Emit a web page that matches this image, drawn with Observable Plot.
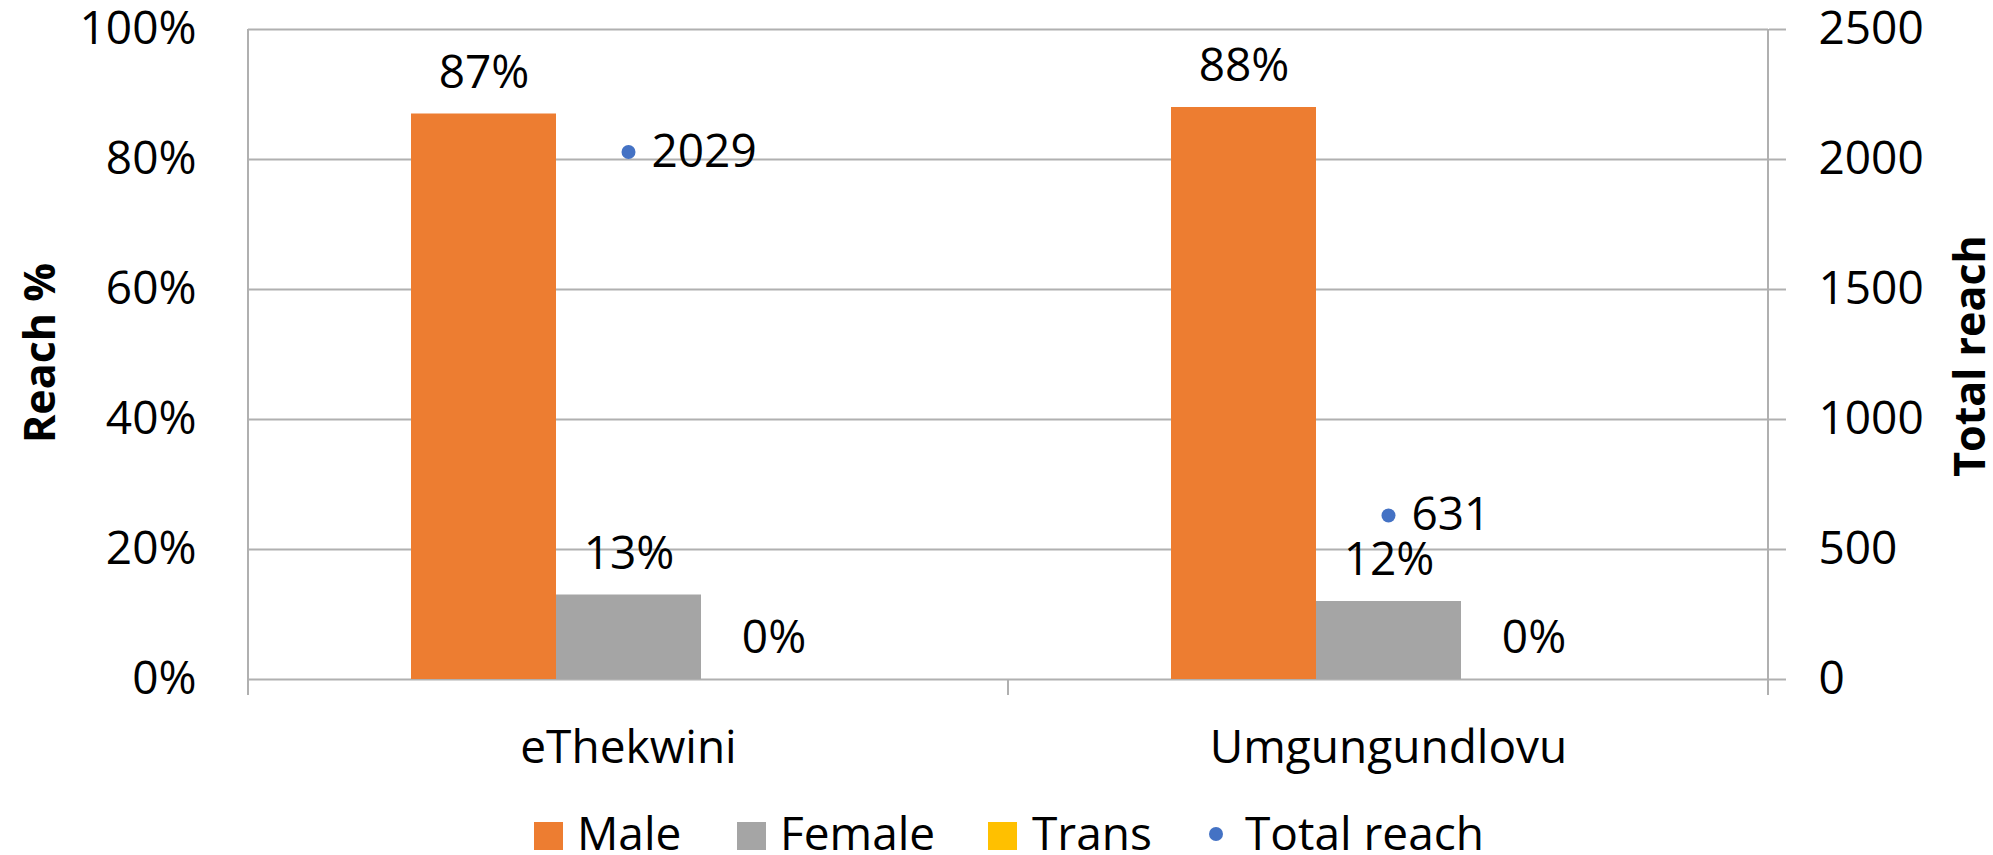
<!DOCTYPE html>
<html><head><meta charset="utf-8">
<script src="https://cdn.jsdelivr.net/npm/d3@7"></script>
<script src="https://cdn.jsdelivr.net/npm/@observablehq/plot@0.6"></script>
<style>
body{margin:0;background:#fff;font-family:"Open Sans",sans-serif;}
#wrap{position:relative;width:1993px;height:855px;overflow:hidden;}
#wrap svg{display:block;}
.ytitle{position:absolute;font-family:"Open Sans",sans-serif;font-weight:700;font-size:43px;line-height:1;white-space:nowrap;transform:translate(-50%,-50%) rotate(-90deg);color:#000;}
</style></head><body>
<div id="wrap"></div>
<script>
const districts = ["eThekwini", "Umgungundlovu"];
const genders = ["Male", "Female", "Trans"];
const malePct = [0.87, 0.88];
const femalePct = [0.13, 0.12];
const transPct = [0, 0];
const totalReach = [2029, 631];
const reachMax = 2500;
const pctTicks = [0, 0.2, 0.4, 0.6, 0.8, 1];
const genderColors = ["#ED7D31", "#A5A5A5", "#FFC000"];
const reachColor = "#4472C4";
const legendLabels = ["Male", "Female", "Trans", "Total reach"];
const yTitleLeft = "Reach %";
const yTitleRight = "Total reach";

const series = [malePct, femalePct, transPct];
const bars = districts.flatMap((d, i) => genders.map((g, j) => ({district: d, gender: g, value: series[j][i]})));
const reach = districts.map((d, i) => ({district: d, reach: totalReach[i], share: totalReach[i] / reachMax}));

const gridColor = "#b0b0b0";
const pct = d3.format(".0%");

const plot = Plot.plot({
  width: 1993, height: 800,
  marginTop: 29, marginBottom: 121, marginLeft: 247, marginRight: 225,
  style: {fontFamily: '"Open Sans", sans-serif', fontSize: "46px", color: "#000", background: "#fff"},
  fx: {domain: districts, padding: 0},
  x: {domain: genders, paddingInner: 0, paddingOuter: 1.12, axis: null},
  y: {domain: [0, 1]},
  color: {domain: genders, range: genderColors},
  marks: [
    Plot.gridY(pctTicks, {stroke: gridColor, strokeOpacity: 1, strokeWidth: 2}),
    Plot.axisY(pctTicks, {anchor: "left", tickSize: 0, tickPadding: 52, tickFormat: pct, fontSize: 46, label: null, fill: "#000"}),
    Plot.axisY(pctTicks, {anchor: "right", tickSize: 17, tickPadding: 33, stroke: gridColor, strokeWidth: 2, fill: "#000",
      tickFormat: d => String(Math.round(d * reachMax)), fontSize: 46, label: null}),
    Plot.axisFx({anchor: "bottom", tickSize: 0, tickPadding: 51, fontSize: 46, label: null, fill: "#000"}),
    Plot.barY(bars, {fx: "district", x: "gender", y: "value", fill: "gender"}),
    Plot.text(bars, {fx: "district", x: "gender", y: "value", text: d => pct(d.value), dy: -41, fontSize: 46, fill: "#000"}),
    Plot.dot(reach, {fx: "district", y: "share", r: 7, fill: reachColor, stroke: null}),
    Plot.text(reach, {fx: "district", y: "share", text: d => String(d.reach), textAnchor: "start", dx: 23, fontSize: 46, fill: "#000"})
  ]
});

// category-axis lines and ticks drawn from the plot's own scales
const fxS = plot.scale("fx"), yS = plot.scale("y");
const x0 = fxS.apply(districts[0]);
const x1 = fxS.apply(districts[1]);
const x2 = x1 + fxS.bandwidth;
const yTop = yS.apply(1), yBase = yS.apply(0), tickLen = 16;
const g = d3.select(plot).append("g").attr("stroke", gridColor).attr("stroke-width", 2);
[[x0, yTop], [x1, yBase], [x2, yTop]].forEach(([x, y1]) => {
  g.append("line").attr("x1", x).attr("x2", x).attr("y1", y1).attr("y2", yBase + tickLen);
});

const wrap = document.getElementById("wrap");
wrap.appendChild(plot);

// axis titles
const t1 = document.createElement("div");
t1.className = "ytitle"; t1.textContent = yTitleLeft;
t1.style.left = "38px"; t1.style.top = "353px";
wrap.appendChild(t1);
const t2 = document.createElement("div");
t2.className = "ytitle"; t2.textContent = yTitleRight;
t2.style.left = "1968px"; t2.style.top = "356px";
wrap.appendChild(t2);

// legend
const leg = d3.select(wrap).append("svg").attr("width", 1993).attr("height", 55)
  .style("font-family", '"Open Sans", sans-serif').style("font-size", "46px");
const swatchX = [534, 737, 988];
const textX = [577, 780, 1032, 1245];
genders.forEach((gname, i) => {
  leg.append("rect").attr("x", swatchX[i]).attr("y", 22).attr("width", 29).attr("height", 28).attr("fill", genderColors[i]);
});
leg.append("circle").attr("cx", 1216).attr("cy", 34).attr("r", 7).attr("fill", reachColor);
legendLabels.forEach((t, i) => {
  leg.append("text").attr("x", textX[i]).attr("y", 50).attr("fill", "#000").text(t);
});
</script>
</body></html>
